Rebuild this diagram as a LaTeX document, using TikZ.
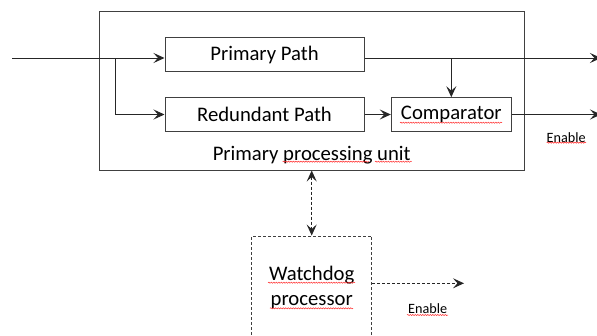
\documentclass[tikz,border=0pt]{standalone}
\usepackage{fontspec}
\setmainfont{Carlito}
\usetikzlibrary{arrows.meta,decorations.pathmorphing}
\begin{document}
\begin{tikzpicture}[x=1pt,y=-1pt,
  box/.style={draw=black!75,line width=1pt,rectangle,inner sep=0pt,font=\fontsize{20.7}{25.3}\selectfont},
  wire/.style={line width=1pt,black!85},
  tip/.style={-{Stealth[length=11pt,width=10pt,inset=4.5pt]}},
  dotline/.style={dash pattern=on 3pt off 2pt},
  lbl/.style={inner sep=0pt,font=\fontsize{20.7}{25.3}\selectfont},
  small/.style={inner sep=0pt,font=\fontsize{14.2}{17}\selectfont},
  squig/.style={draw=red!85,line width=0.5pt,decorate,decoration={snake,amplitude=0.6pt,segment length=2.5pt}}]
\useasboundingbox (0,0) rectangle (597,335);
\fill[white] (0,0) rectangle (597,335);
% outer unit
\node[box,minimum width=425pt,minimum height=159pt] (ppu) at (311.5,90.5) {};
\node[lbl] (ppul) at (311.7,155) {Primary processing unit};
% inner blocks
\node[box,minimum width=199pt,minimum height=33.6pt] (prim) at (264.5,54.5) {Primary Path};
\node[box,minimum width=199pt,minimum height=33.6pt] (red) at (264.5,114.5) {Redundant Path};
\node[box,minimum width=120pt,minimum height=33.6pt] (comp) at (451.3,114.5) {Comparator};
% coordinates
\coordinate (in) at (12,58);
\coordinate (br) at (115,58);
\coordinate (pout) at (601,58);
\coordinate (tap) at (451.3,58);
\coordinate (cout) at (601,114.5);
% connectors
\draw[wire] (in) -- (br);
\draw[wire,tip] (br) -- (prim.west |- in);
\draw[wire,tip] (br) |- (red.west);
\draw[wire,tip] (prim.east |- in) -- (pout);
\draw[wire,tip] (tap) -- (comp.north);
\draw[wire,tip] (red.east) -- (comp.west);
\draw[wire,tip] (comp.east) -- (cout);
\node[small] (en1) at (566.2,138) {Enable};
% watchdog
\node[box,dotline,minimum width=120pt,minimum height=109pt] (wd) at (311.7,290.5) {};
\node[lbl,align=center] (wdt) at (311.7,287.5) {Watchdog\\processor};
\draw[wire,dotline,{Stealth[length=11pt,width=10pt,inset=4.5pt]}-{Stealth[length=11pt,width=10pt,inset=4.5pt]}] (ppu.south -| wd.north) -- (wd.north);
\coordinate (wdo) at (464,283.3);
\draw[wire,dotline,tip] (wd.east |- wdo) -- (wdo);
\node[small] (en2) at (427.7,309) {Enable};
% spell-check squiggles
\draw[squig] (400,122.7) -- (502,122.7);
\draw[squig] (282.7,161.7) -- (369,161.7);
\draw[squig] (375,161.7) -- (411.7,161.7);
\draw[squig] (546.7,142.7) -- (586,142.7);
\draw[squig] (268,282.7) -- (355,282.7);
\draw[squig] (270,308.3) -- (353,308.3);
\draw[squig] (407,315) -- (448,315);
\end{tikzpicture}
\end{document}
